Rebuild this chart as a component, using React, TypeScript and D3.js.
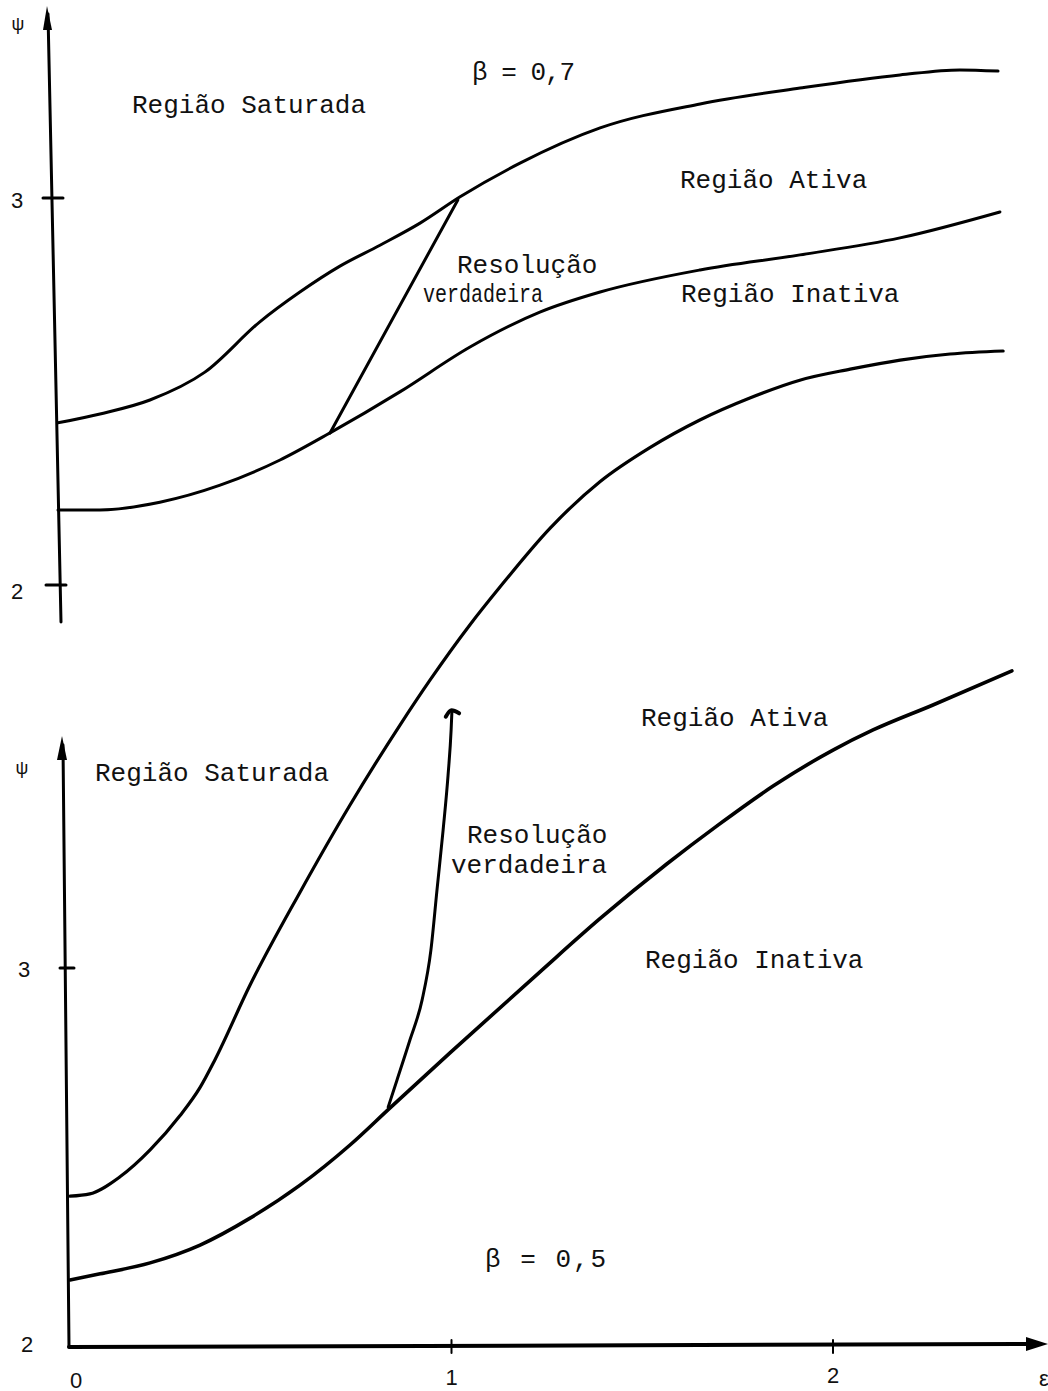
import React from "react";
import * as d3 from "d3";

type Pt = [number, number];

// ---- top panel (β = 0,7) ----
const topSaturation: Pt[] = [
  [0, 2.419], [0.11, 2.442], [0.241, 2.478], [0.385, 2.55], [0.529, 2.68],
  [0.634, 2.757], [0.739, 2.824], [0.844, 2.878], [0.949, 2.935], [1.054, 3.003], [1.211, 3.09],
  [1.421, 3.181], [1.683, 3.243], [1.945, 3.284], [2.207, 3.318], [2.364, 3.331], [2.464, 3.328],
];
const topInactive: Pt[] = [
  [0, 2.194], [0.11, 2.194], [0.267, 2.214], [0.425, 2.258], [0.582, 2.323],
  [0.713, 2.393], [0.896, 2.499], [1.08, 2.615], [1.263, 2.705], [1.421, 2.757],
  [1.683, 2.814], [1.945, 2.853], [2.207, 2.897], [2.469, 2.964],
];
const topResolution: Pt[] = [[0.713, 2.393], [1.048, 2.995]];

// ---- bottom panel (β = 0,5) ----
const botSaturation: Pt[] = [
  [0, 2.398], [0.052, 2.404], [0.131, 2.449], [0.21, 2.52], [0.288, 2.61],
  [0.341, 2.685], [0.38, 2.758], [0.472, 2.955], [0.603, 3.2], [0.734, 3.43],
  [0.865, 3.641], [0.944, 3.76], [1.048, 3.905], [1.127, 4.005], [1.258, 4.16],
  [1.389, 4.283], [1.52, 4.373], [1.651, 4.446], [1.782, 4.504], [1.913, 4.551],
  [2.045, 4.58], [2.176, 4.604], [2.307, 4.62], [2.446, 4.628],
];
const botInactive: Pt[] = [
  [0, 2.177], [0.079, 2.193], [0.21, 2.222], [0.341, 2.269], [0.472, 2.34],
  [0.603, 2.427], [0.734, 2.533], [0.839, 2.631], [0.996, 2.776], [1.232, 2.99],
  [1.389, 3.13], [1.565, 3.275], [1.696, 3.375], [1.843, 3.48], [2.0, 3.575],
  [2.105, 3.628], [2.262, 3.694], [2.469, 3.784],
];
const botResolution: Pt[] = [
  [0.834, 2.633], [0.857, 2.704], [0.891, 2.81], [0.923, 2.916], [0.946, 3.047],
  [0.962, 3.206], [0.978, 3.364], [0.991, 3.509], [0.999, 3.628], [1.001, 3.675],
];
const botHook: Pt[] = [[0.985, 3.663], [1.0, 3.68], [1.02, 3.672]];

const yTicksTop = [2, 3];
const yTicksBot = [2, 3];
const xTicks = [0, 1, 2];

const W = 1048;
const H = 1391;

const xTop = d3.scaleLinear().domain([0, 2]).range([58, 821]);
const yTop = d3.scaleLinear().domain([2, 3]).range([585, 198]);
const xBot = d3.scaleLinear().domain([0, 2]).range([70, 833]);
const yBot = d3.scaleLinear().domain([2, 3]).range([1347, 968]);

const lineTop = d3.line<Pt>().x((d) => xTop(d[0])).y((d) => yTop(d[1])).curve(d3.curveMonotoneX);
const lineBot = d3.line<Pt>().x((d) => xBot(d[0])).y((d) => yBot(d[1])).curve(d3.curveMonotoneX);

const mono = "'Liberation Mono', 'DejaVu Sans Mono', monospace";
const sans = "'Liberation Sans', 'DejaVu Sans', sans-serif";

const Label = ({ x, y, t, len }: { x: number; y: number; t: string; len?: number }) => (
  <text x={x} y={y} fontFamily={mono} fontSize={26} fill="#111" textLength={len} lengthAdjust={len ? "spacingAndGlyphs" : undefined} style={{ whiteSpace: "pre" }}>
    {t}
  </text>
);

export default function App() {
  const ax0Top = xTop(0);
  const ax0Bot = xBot(0);
  const xAxisY = yBot(2);
  return (
    <svg width={W} height={H} viewBox={`0 0 ${W} ${H}`} style={{ position: "absolute", left: 0, top: 0, background: "#fff" }}>
      <rect x={0} y={0} width={W} height={H} fill="#fff" />
      <g stroke="#000" fill="none" strokeLinecap="round" strokeLinejoin="round">
        {/* top y axis */}
        <line x1={ax0Top - 10} y1={14} x2={ax0Top + 3} y2={622} strokeWidth={3} />
        {yTicksTop.map((t) => (
          <line key={t} x1={ax0Top - 12 + (t - 2) * -3} y1={yTop(t)} x2={ax0Top + 8 + (t - 2) * -3} y2={yTop(t)} strokeWidth={3} />
        ))}
        {/* bottom y axis */}
        <line x1={ax0Bot - 7} y1={745} x2={ax0Bot - 1} y2={xAxisY} strokeWidth={3} />
        {yTicksBot.filter((t) => t !== 2).map((t) => (
          <line key={t} x1={ax0Bot - 10} y1={yBot(t)} x2={ax0Bot + 4} y2={yBot(t)} strokeWidth={3} />
        ))}
        {/* x axis */}
        <line x1={ax0Bot - 1} y1={xAxisY} x2={1035} y2={xAxisY - 3} strokeWidth={4} />
        {xTicks.filter((t) => t !== 0).map((t) => (
          <line key={t} x1={xBot(t)} y1={xAxisY - 7} x2={xBot(t)} y2={xAxisY + 6} strokeWidth={2} />
        ))}

        {/* curves */}
        <path d={lineTop(topSaturation) || ""} strokeWidth={3} />
        <path d={lineTop(topInactive) || ""} strokeWidth={3} />
        <path d={d3.line<Pt>().x((d) => xTop(d[0])).y((d) => yTop(d[1]))(topResolution) || ""} strokeWidth={3} />
        <path d={lineBot(botSaturation) || ""} strokeWidth={3.2} />
        <path d={lineBot(botInactive) || ""} strokeWidth={3.6} />
        <path d={lineBot(botResolution) || ""} strokeWidth={3} />
        <path d={lineBot(botHook) || ""} strokeWidth={4} />
      </g>
      {/* arrowheads */}
      <path d={`M ${ax0Top - 11} 6 L ${ax0Top - 6} 30 L ${ax0Top - 15} 30 Z`} fill="#000" />
      <path d={`M ${ax0Bot - 8} 736 L ${ax0Bot - 3} 760 L ${ax0Bot - 13} 760 Z`} fill="#000" />
      <path d={`M 1048 ${xAxisY - 3} L 1026 ${xAxisY - 10} L 1026 ${xAxisY + 4} Z`} fill="#000" />

      {/* tick labels */}
      <g fontFamily={sans} fontSize={22} fill="#111" textAnchor="middle" dominantBaseline="central">
        <text x={17} y={yTop(3) + 2}>3</text>
        <text x={17} y={yTop(2) + 6}>2</text>
        <text x={24} y={yBot(3) + 1}>3</text>
        <text x={27} y={yBot(2) - 3}>2</text>
        <text x={xBot(0) + 6} y={1380}>0</text>
        <text x={xBot(1)} y={1377}>1</text>
        <text x={xBot(2)} y={1375}>2</text>
        <text x={1044} y={1378}>ε</text>
        <text x={18} y={24} fontSize={18}>ψ</text>
        <text x={22} y={768} fontSize={18}>ψ</text>
      </g>

      {/* region labels */}
      <text x={472} y={80} fontFamily={mono} fontSize={26} fill="#111" letterSpacing={-1} style={{ whiteSpace: "pre" }}>β = 0,7</text>
      <Label x={132} y={113} t="Região Saturada" />
      <Label x={680} y={188} t="Região Ativa" />
      <Label x={457} y={273} t="Resolução" />
      <Label x={423} y={302} t="verdadeira" len={120} />
      <Label x={681} y={302} t="Região Inativa" />

      <Label x={641} y={726} t="Região Ativa" />
      <Label x={95} y={781} t="Região Saturada" />
      <Label x={467} y={843} t="Resolução" />
      <Label x={451} y={873} t="verdadeira" />
      <Label x={645} y={968} t="Região Inativa" />
      <text x={485} y={1267} fontFamily={mono} fontSize={26} fill="#111" letterSpacing={2} style={{ whiteSpace: "pre" }}>β = 0,5</text>
    </svg>
  );
}
